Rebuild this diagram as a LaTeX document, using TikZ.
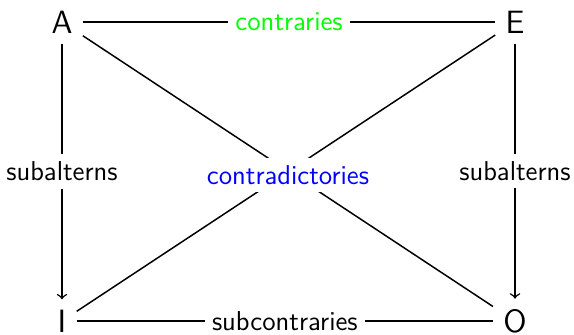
\documentclass[tikz,border=0pt]{standalone}
\begin{document}
\begin{tikzpicture}[x=0.403pt,y=-0.403pt,font=\sffamily\fontsize{11}{13}\selectfont,
  corner/.style={inner sep=4pt,font=\sffamily\fontsize{13}{15}\selectfont},
  link/.style={semithick},
  lab/.style={fill=white,inner sep=3pt}]
\useasboundingbox (0,0) rectangle (574,335);
\node[corner] (A) at (62,22) {A};
\node[corner] (E) at (515,22) {E};
\node[corner] (I) at (62,321) {I};
\node[corner] (O) at (515,321) {O};
\draw[link] (A) -- node[lab,text=green] (con) {contraries} (E);
\draw[link] (I) -- node[lab] (sub) {subcontraries} (O);
\draw[link,->] (A) -- node[lab] (sa1) {subalterns} (I);
\draw[link,->] (E) -- node[lab] (sa2) {subalterns} (O);
\draw[link] (A) -- (O);
\draw[link] (E) -- (I);
\node[lab,text=blue] (cd) at (288,175) {contradictories};
\end{tikzpicture}
\end{document}
